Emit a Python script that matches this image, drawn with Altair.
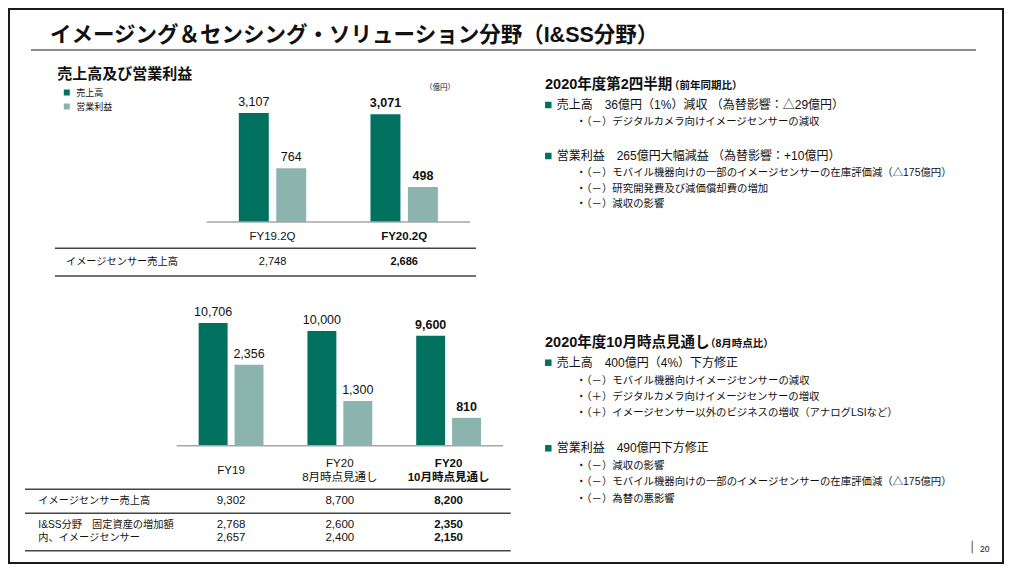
import altair as alt
import pandas as pd

# ---------------- data ----------------
slide_title = "イメージング＆センシング・ソリューション分野（I&SS分野）"
panel_title = "売上高及び営業利益"
unit_label = "（億円）"
series_names = ["売上高", "営業利益"]

q_periods = ["FY19.2Q", "FY20.2Q"]
q_sales = [3107, 3071]
q_profit = [764, 498]
q_sensor_sales = [2748, 2686]

fy_periods = ["FY19", "FY20\n8月時点見通し", "FY20\n10月時点見通し"]
fy_sales = [10706, 10000, 9600]
fy_profit = [2356, 1300, 810]
fy_sensor_sales = [9302, 8700, 8200]
fy_capex = [2768, 2600, 2350]
fy_capex_sensor = [2657, 2400, 2150]

row_sensor_sales = "イメージセンサー売上高"
row_capex = "I&SS分野　固定資産の増加額"
row_capex_sensor = "内、イメージセンサー"

q2_head = "2020年度第2四半期"
q2_note = "（前年同期比）"
q2_sales_head = "売上高　36億円（1%）減収 （為替影響：△29億円）"
q2_sales_items = ["・（－）デジタルカメラ向けイメージセンサーの減収"]
q2_profit_head = "営業利益　265億円大幅減益 （為替影響：+10億円）"
q2_profit_items = [
    "・（－）モバイル機器向けの一部のイメージセンサーの在庫評価減（△175億円）",
    "・（－）研究開発費及び減価償却費の増加",
    "・（－）減収の影響",
]
fc_head = "2020年度10月時点見通し"
fc_note = "（8月時点比）"
fc_sales_head = "売上高　400億円（4%）下方修正"
fc_sales_items = [
    "・（－）モバイル機器向けイメージセンサーの減収",
    "・（＋）デジタルカメラ向けイメージセンサーの増収",
    "・（＋）イメージセンサー以外のビジネスの増収（アナログLSIなど）",
]
fc_profit_head = "営業利益　490億円下方修正"
fc_profit_items = [
    "・（－）減収の影響",
    "・（－）モバイル機器向けの一部のイメージセンサーの在庫評価減（△175億円）",
    "・（－）為替の悪影響",
]
page_number = "20"

# ---------------- style ----------------
DARK = "#00705F"
LIGHT = "#8BB4AE"
INK = "#111111"
LINE = "#444444"
FONT = "Liberation Sans, Noto Sans CJK JP"


def txt(text, x, y, size, bold=False, align="left", color=INK):
    return alt.Chart(alt.Data(values=[{"t": text}])).mark_text(
        align=align, baseline="middle", fontSize=size,
        fontWeight="bold" if bold else "normal", color=color, font=FONT,
    ).encode(x=alt.value(x), y=alt.value(y), text="t:N")


def hline(x1, x2, y, color=LINE, width=1.5):
    return alt.Chart(alt.Data(values=[{"k": 0}])).mark_rule(
        color=color, strokeWidth=width
    ).encode(x=alt.value(x1), x2=alt.value(x2), y=alt.value(y))


def vline(x, y1, y2, color, width):
    return alt.Chart(alt.Data(values=[{"k": 0}])).mark_rule(
        color=color, strokeWidth=width
    ).encode(x=alt.value(x), y=alt.value(y1), y2=alt.value(y2))


def square(x, y, size, color):
    return alt.Chart(alt.Data(values=[{"k": 0}])).mark_square(
        size=size, color=color, opacity=1
    ).encode(x=alt.value(x), y=alt.value(y))


def panel(periods, sales, profit, x_range, pad_in, pad_out, off_pad,
          y_range, maxes, label_size, cat_y, cat_size, cat_lh,
          table_rows, legend):
    rows = []
    for p, s, o in zip(periods, sales, profit):
        rows.append({"period": p, "series": series_names[0], "value": s})
        rows.append({"period": p, "series": series_names[1], "value": o})
    df = pd.DataFrame(rows)
    last = periods[-1]
    xenc = alt.X("period:N", sort=periods, axis=None,
                 scale=alt.Scale(domain=periods, range=x_range,
                                 paddingInner=pad_in, paddingOuter=pad_out))
    xoff = alt.XOffset("series:N", sort=series_names,
                       scale=alt.Scale(domain=series_names, paddingInner=off_pad,
                                       paddingOuter=0))
    if legend:
        color = alt.Color("series:N", scale=alt.Scale(domain=series_names, range=[DARK, LIGHT]),
                          legend=alt.Legend(orient="none", legendX=54.3, legendY=80,
                                            title=None, symbolType="square", symbolSize=36,
                                            symbolStrokeWidth=0, labelFontSize=9, labelFont=FONT,
                                            labelColor=INK, labelOffset=5, rowPadding=4,
                                            padding=0, direction="vertical"))
    layers = []
    for name, vmax, col in zip(series_names, maxes, [DARK, LIGHT]):
        yenc = alt.Y("value:Q", axis=None,
                     scale=alt.Scale(domain=[0, vmax], range=y_range, nice=False))
        base = alt.Chart(df).transform_filter(alt.datum.series == name)
        bars = base.mark_bar().encode(
            x=xenc, xOffset=xoff, y=yenc,
            color=color if legend else alt.value(col))
        lab_n = base.transform_filter(alt.datum.period != last).mark_text(
            dy=-11, fontSize=label_size, baseline="middle", color=INK, font=FONT
        ).encode(x=xenc, xOffset=xoff, y=yenc, text=alt.Text("value:Q", format=","))
        lab_b = base.transform_filter(alt.datum.period == last).mark_text(
            dy=-11, fontSize=label_size, baseline="middle", color=INK, font=FONT,
            fontWeight="bold"
        ).encode(x=xenc, xOffset=xoff, y=yenc, text=alt.Text("value:Q", format=","))
        layers.append(alt.layer(bars, lab_n, lab_b))
    # category labels (multi-line ones centred on the same middle line)
    cats = pd.DataFrame({"period": periods})
    for bold in (False, True):
        for multi in (False, True):
            f_last = (alt.datum.period == last) if bold else (alt.datum.period != last)
            f_multi = "indexof(datum.period, '\\n') >= 0" if multi else "indexof(datum.period, '\\n') < 0"
            layers.append(alt.Chart(cats).transform_filter(f_last).transform_filter(f_multi).mark_text(
                fontSize=cat_size, baseline="middle", color=INK, font=FONT,
                fontWeight="bold" if bold else "normal",
                lineBreak="\n", lineHeight=cat_lh
            ).encode(x=xenc, y=alt.value(cat_y - (cat_lh / 2 if multi else 0)), text="period:N"))
    # table values
    for vals, ty, tsize in table_rows:
        tdf = pd.DataFrame({"period": periods, "v": vals})
        for bold in (False, True):
            flt = (alt.datum.period == last) if bold else (alt.datum.period != last)
            layers.append(alt.Chart(tdf).transform_filter(flt).mark_text(
                fontSize=tsize, baseline="middle", color=INK, font=FONT,
                fontWeight="bold" if bold else "normal"
            ).encode(x=xenc, y=alt.value(ty), text=alt.Text("v:Q", format=",")))
    return alt.layer(*layers).resolve_scale(y="independent")


top_panel = panel(
    q_periods, q_sales, q_profit,
    x_range=[198.7, 462], pad_in=0.488, pad_out=0.244, off_pad=0.2,
    y_range=[214, 73.6], maxes=[4000, 2000], label_size=12.5,
    cat_y=229, cat_size=11.5, cat_lh=14,
    table_rows=[(q_sensor_sales, 253.5, 11)], legend=True)

bottom_panel = panel(
    fy_periods, fy_sales, fy_profit,
    x_range=[168.7, 495], pad_in=0.404, pad_out=0.202, off_pad=0.194,
    y_range=[437.7, 300.2], maxes=[12000, 4000], label_size=12.5,
    cat_y=462.8, cat_size=11.5, cat_lh=14,
    table_rows=[(fy_sensor_sales, 492.7, 11.5), (fy_capex, 517, 11.5),
                (fy_capex_sensor, 530.3, 11.5)], legend=False)

frame = alt.Chart(alt.Data(values=[{"k": 0}])).mark_rect(
    fillOpacity=0, stroke="#1a1a1a", strokeWidth=2
).encode(x=alt.value(1), x2=alt.value(995), y=alt.value(1), y2=alt.value(555))

layers = [
    frame,
    txt(slide_title, 42, 28, 21.5, bold=True),
    hline(23, 968, 42, color="#8a8a8a", width=2),
    txt(panel_title, 49.3, 66, 15, bold=True),
    txt(unit_label, 432, 80.3, 7.5, align="center"),
    top_panel,
    bottom_panel,
    hline(198.7, 462, 214, color="#a6a6a6", width=1.5),
    hline(168.7, 495, 437.7, color="#a6a6a6", width=1.5),
    hline(47, 468, 240.3), hline(47, 468, 268),
    txt(row_sensor_sales, 58, 253.5, 10.2),
    hline(17, 502.7, 481.3), hline(17, 502.7, 505.3), hline(17, 502.7, 542.7),
    txt(row_sensor_sales, 30.3, 492.7, 10.2),
    txt(row_capex, 30.3, 517, 10.2),
    txt(row_capex_sensor, 30.3, 530.3, 10.2),
    # right side: Q2 block
    txt(q2_head, 537, 77, 14.5, bold=True),
    txt(q2_note, 661, 78, 10.5, bold=True),
    square(540.3, 97, 42, DARK),
    txt(q2_sales_head, 548.7, 97, 12),
    square(540.3, 148, 42, DARK),
    txt(q2_profit_head, 548.7, 148, 12),
    # right side: forecast block
    txt(fc_head, 537, 335.3, 14.5, bold=True),
    txt(fc_note, 697, 336.3, 10.5, bold=True),
    square(540.3, 354.7, 42, DARK),
    txt(fc_sales_head, 548.7, 354.7, 12),
    square(540.3, 440.3, 42, DARK),
    txt(fc_profit_head, 548.7, 440.3, 12),
    # page number
    vline(964.3, 532.7, 545.3, "#8a8a8a", 1.5),
    txt(page_number, 972, 540.7, 8.5),
]
for items, y0, lh in [(q2_sales_items, 113.7, 15.8), (q2_profit_items, 164.7, 15.8),
                      (fc_sales_items, 372.7, 16.3), (fc_profit_items, 457.7, 16.7)]:
    for i, line in enumerate(items):
        layers.append(txt(line, 568, y0 + i * lh, 10.4))

chart = alt.layer(*layers).resolve_scale(
    x="independent", y="independent", xOffset="independent"
).properties(
    width=996, height=556, autosize=alt.AutoSizeParams(type="none"), padding=0
).configure_view(stroke=None)

chart.save("out.html", embed_options={"renderer": "svg", "actions": False})
